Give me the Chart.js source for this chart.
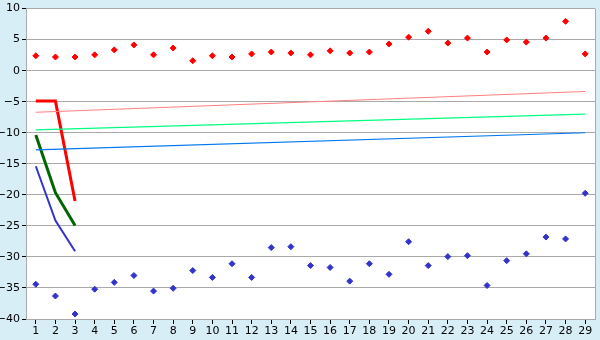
<!DOCTYPE html>
<html>
<head>
<meta charset="utf-8">
<script src="https://cdn.jsdelivr.net/npm/chart.js@4/dist/chart.umd.min.js"></script>
<style>
html,body{margin:0;padding:0;background:#d8eef6;}
#wrap{width:600px;height:340px;position:relative;}
</style>
</head>
<body>
<div id="wrap"><canvas id="c" width="600" height="340"></canvas></div>
<script>
const categories = ['1','2','3','4','5','6','7','8','9','10','11','12','13','14','15','16','17','18','19','20','21','22','23','24','25','26','27','28','29'];
const redPoints = [2.4,2.2,2.2,2.55,3.35,4.15,2.55,3.65,1.6,2.4,2.2,2.7,3.0,2.85,2.55,3.2,2.85,3.0,4.3,5.4,6.35,4.45,5.25,3.0,4.95,4.6,5.25,7.95,2.7];
const bluePoints = [-34.4,-36.3,-39.2,-35.2,-34.1,-33.0,-35.5,-35.05,-32.2,-33.3,-31.1,-33.3,-28.5,-28.35,-31.4,-31.7,-33.9,-31.1,-32.8,-27.55,-31.4,-29.95,-29.8,-34.6,-30.6,-29.5,-26.8,-27.1,-19.75];
const redTrend = [-6.7,null,null,null,null,null,null,null,null,null,null,null,null,null,null,null,null,null,null,null,null,null,null,null,null,null,null,null,-3.35];
const greenTrend = [-9.55,null,null,null,null,null,null,null,null,null,null,null,null,null,null,null,null,null,null,null,null,null,null,null,null,null,null,null,-7.0];
const blueTrend = [-12.75,null,null,null,null,null,null,null,null,null,null,null,null,null,null,null,null,null,null,null,null,null,null,null,null,null,null,null,-10.0];
const redThick = [-4.9,-4.9,-21.0];
const greenThick = [-10.35,-19.65,-24.95];
const blueThick = [-15.4,-24.15,-29.1];
const yTicks = [-40,-35,-30,-25,-20,-15,-10,-5,0,5,10];

const frame = {
  id:'frame',
  beforeDraw(chart){
    const a = chart.chartArea, ctx = chart.ctx;
    ctx.save();
    ctx.fillStyle = '#ffffff';
    ctx.fillRect(a.left, a.top, a.right - a.left, a.bottom - a.top);
    ctx.restore();
  },
  afterDraw(chart){
    const a = chart.chartArea, ctx = chart.ctx;
    ctx.save();
    ctx.strokeStyle = '#aaaaaa';
    ctx.lineWidth = 1;
    ctx.beginPath();
    ctx.moveTo(Math.round(a.right)+0.5, a.top);
    ctx.lineTo(Math.round(a.right)+0.5, a.bottom);
    ctx.stroke();
    ctx.restore();
  }
};

const lineDs = (data, color, w) => ({type:'line', data, borderColor:color, backgroundColor:color, borderWidth:w, pointRadius:0, tension:0, spanGaps:true, fill:false});
const ptDs = (data, color) => ({type:'line', data, showLine:false, borderColor:color, backgroundColor:color, pointStyle:'rectRot', pointRadius:3, pointBorderWidth:1, pointHoverRadius:3});

new Chart(document.getElementById('c'), {
  type:'line',
  data:{
    labels:categories,
    datasets:[
      lineDs(redTrend,'#ff8080',1),
      lineDs(greenTrend,'#00ff80',1.2),
      lineDs(blueTrend,'#0077ee',1.2),
      lineDs(redThick,'#ff0000',3),
      lineDs(greenThick,'#006600',3),
      lineDs(blueThick,'#3333cc',2),
      ptDs(redPoints,'#ff0000'),
      ptDs(bluePoints,'#3333cc')
    ]
  },
  options:{
    responsive:false,
    animation:false,
    layout:{padding:{top:5,right:5,left:0,bottom:0}},
    plugins:{legend:{display:false},tooltip:{enabled:false}},
    scales:{
      x:{
        offset:true,
        afterFit(s){ s.height = 21; },
        grid:{drawOnChartArea:false, tickLength:5, tickColor:'#000000', color:'#000000'},
        border:{color:'#aaaaaa'},
        ticks:{color:'#000000', font:{family:'DejaVu Sans', size:11}, padding:1, maxRotation:0, autoSkip:false}
      },
      y:{
        min:-40, max:10,
        afterFit(s){ s.width = 26; },
        afterBuildTicks(s){ s.ticks = yTicks.map(v=>({value:v})); },
        grid:{color:'#aaaaaa', tickLength:4, tickColor:'#000000'},
        border:{color:'#aaaaaa'},
        ticks:{color:'#000000', font:{family:'DejaVu Sans', size:11}, padding:2,
          callback:(v)=> v<0 ? '\u2212'+Math.abs(v) : String(v)}
      }
    }
  },
  plugins:[frame]
});
</script>
</body>
</html>
